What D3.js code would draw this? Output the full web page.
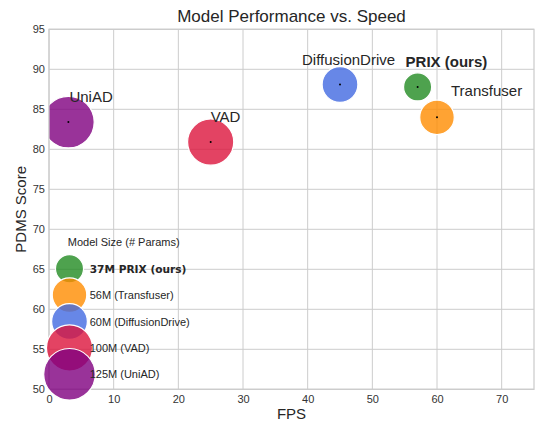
<!DOCTYPE html>
<html>
<head>
<meta charset="utf-8">
<script src="https://cdn.jsdelivr.net/npm/d3@7"></script>
<style>
  html, body { margin: 0; padding: 0; background: #fff; }
  svg { display: block; font-family: "Liberation Sans", Arial, sans-serif; }
</style>
</head>
<body>
<svg id="chart" width="537" height="422"></svg>
<script>
// ---- data ----
const models = ["UniAD", "VAD", "DiffusionDrive", "PRIX (ours)", "Transfuser"];
const fps = [3, 25, 45, 57, 60];
const pdms = [83.4, 80.9, 88.1, 87.8, 84.0];
const paramsM = [125, 100, 60, 37, 56];
const xTicks = [0, 10, 20, 30, 40, 50, 60, 70];
const yTicks = [50, 55, 60, 65, 70, 75, 80, 85, 90, 95];
const legendOrder = ["PRIX (ours)", "Transfuser", "DiffusionDrive", "VAD", "UniAD"];

// ---- style / layout config ----
const colors = {
  "UniAD": "#800080", "VAD": "#dc143c", "DiffusionDrive": "#4169e1",
  "PRIX (ours)": "#228b22", "Transfuser": "#ff8c00"
};
const labelOffset = {
  "UniAD": [1, -20.6], "VAD": [0, -20.6], "DiffusionDrive": [-38, -20],
  "PRIX (ours)": [-12, -20.3], "Transfuser": [14, -21]
};
const ours = "PRIX (ours)";
const textColor = "#262626";
const gridColor = "#cccccc";

const W = 537, H = 422;
const m = { left: 49, right: 3, top: 29.3, bottom: 32.7 };
const svg = d3.select("#chart");

const x = d3.scaleLinear().domain([0, 75]).range([m.left, W - m.right]);
const y = d3.scaleLinear().domain([50, 95]).range([H - m.bottom, m.top]);
const rScale = d3.scaleSqrt().domain([0, 125]).range([0, 25.8]);

// grid
const g = svg.append("g");
g.selectAll(".vg").data(xTicks).join("line")
  .attr("x1", d => x(d)).attr("x2", d => x(d))
  .attr("y1", y.range()[0]).attr("y2", y.range()[1])
  .attr("stroke", gridColor).attr("stroke-width", 1);
g.selectAll(".hg").data(yTicks).join("line")
  .attr("y1", d => y(d)).attr("y2", d => y(d))
  .attr("x1", x.range()[0]).attr("x2", x.range()[1])
  .attr("stroke", gridColor).attr("stroke-width", 1);

// axes (tick labels only via d3 axes)
const xAxis = svg.append("g")
  .attr("transform", `translate(0,${y.range()[0]})`)
  .call(d3.axisBottom(x).tickValues(xTicks).tickSize(0).tickPadding(6));
const yAxis = svg.append("g")
  .attr("transform", `translate(${x.range()[0]},0)`)
  .call(d3.axisLeft(y).tickValues(yTicks).tickSize(0).tickPadding(4));
[xAxis, yAxis].forEach(a => {
  a.select(".domain").remove();
  a.selectAll("text").attr("font-size", 11).attr("fill", "#333333")
    .attr("font-family", "Liberation Sans, Arial, sans-serif");
});

// clip
svg.append("clipPath").attr("id", "plotclip").append("rect")
  .attr("x", x.range()[0]).attr("y", y.range()[1])
  .attr("width", x.range()[1] - x.range()[0])
  .attr("height", y.range()[0] - y.range()[1]);

const pts = models.map((name, i) => ({ name, fps: fps[i], pdms: pdms[i], p: paramsM[i] }));

const plot = svg.append("g").attr("clip-path", "url(#plotclip)");
plot.selectAll("circle.bubble").data(pts).join("circle")
  .attr("class", "bubble")
  .attr("cx", d => x(d.fps)).attr("cy", d => y(d.pdms))
  .attr("r", d => rScale(d.p))
  .attr("fill", d => colors[d.name]).attr("fill-opacity", 0.8)
  .attr("stroke", "#fff").attr("stroke-width", 1.2);
plot.selectAll("circle.dot").data(pts).join("circle")
  .attr("class", "dot")
  .attr("cx", d => x(d.fps)).attr("cy", d => y(d.pdms))
  .attr("r", 1).attr("fill", "#000");

// spines
svg.append("rect")
  .attr("x", x.range()[0]).attr("y", y.range()[1])
  .attr("width", x.range()[1] - x.range()[0])
  .attr("height", y.range()[0] - y.range()[1])
  .attr("fill", "none").attr("stroke", gridColor).attr("stroke-width", 1.25);

// point labels
svg.selectAll("text.plabel").data(pts).join("text")
  .attr("class", "plabel")
  .attr("x", d => x(d.fps) + labelOffset[d.name][0])
  .attr("y", d => y(d.pdms) + labelOffset[d.name][1])
  .attr("font-size", 15)
  .attr("font-weight", d => d.name === ours ? "bold" : "normal")
  .attr("fill", textColor)
  .text(d => d.name);

// title & axis labels
const cx = (x.range()[0] + x.range()[1]) / 2;
svg.append("text").attr("x", cx).attr("y", 21.5).attr("text-anchor", "middle")
  .attr("font-size", 17).attr("fill", textColor).text("Model Performance vs. Speed");
svg.append("text").attr("x", cx).attr("y", 419).attr("text-anchor", "middle")
  .attr("font-size", 15).attr("fill", textColor).text("FPS");
svg.append("text")
  .attr("transform", `translate(26,${(y.range()[0] + y.range()[1]) / 2}) rotate(-90)`)
  .attr("text-anchor", "middle").attr("font-size", 15).attr("fill", textColor)
  .text("PDMS Score");

// legend
const leg = svg.append("g");
leg.append("text").attr("x", 123.7).attr("y", 245.5).attr("text-anchor", "middle")
  .attr("font-size", 11).attr("fill", textColor).text("Model Size (# Params)");
const legItems = legendOrder.map(n => pts.find(p => p.name === n));
const ly0 = 268.7, lstep = 26.4, lx = 69.5;
legItems.forEach((d, i) => {
  leg.append("circle").attr("cx", lx).attr("cy", ly0 + i * lstep)
    .attr("r", rScale(d.p))
    .attr("fill", colors[d.name]).attr("fill-opacity", 0.8)
    .attr("stroke", "#fff").attr("stroke-width", 1.2);
});
legItems.forEach((d, i) => {
  const isOurs = d.name === ours;
  leg.append("text").attr("x", 89.7).attr("y", ly0 + i * lstep + 4)
    .attr("font-size", isOurs ? 10.6 : 11)
    .attr("font-family", isOurs ? "DejaVu Sans, sans-serif" : "Liberation Sans, Arial, sans-serif")
    .attr("font-weight", isOurs ? "bold" : "normal")
    .attr("fill", textColor)
    .text(`${d.p}M ${isOurs ? d.name : "(" + d.name + ")"}`);
});
</script>
</body>
</html>
